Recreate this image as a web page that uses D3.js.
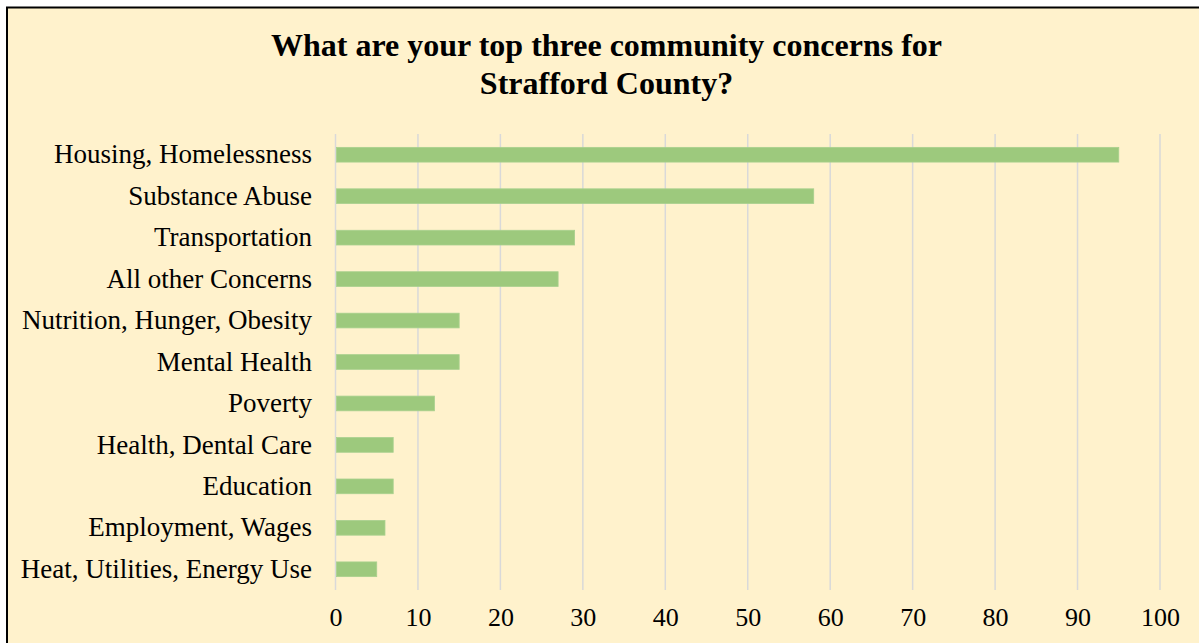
<!DOCTYPE html>
<html>
<head>
<meta charset="utf-8">
<script src="https://cdn.jsdelivr.net/npm/d3@7"></script>
<style>
  body { margin: 0; background: #fff; }
  text { font-family: "Times New Roman", "Liberation Serif", serif; }
</style>
</head>
<body>
<div id="chart"></div>
<script>
// chart data
let categories = [
  "Housing, Homelessness",
  "Substance Abuse",
  "Transportation",
  "All other Concerns",
  "Nutrition, Hunger, Obesity",
  "Mental Health",
  "Poverty",
  "Health, Dental Care",
  "Education",
  "Employment, Wages",
  "Heat, Utilities, Energy Use"
];
let counts = [95, 58, 29, 27, 15, 15, 12, 7, 7, 6, 5];
let xTicks = [0, 10, 20, 30, 40, 50, 60, 70, 80, 90, 100];
let titleLines = ["What are your top three community concerns for", "Strafford County?"];

let width = 1199, height = 643;

let xScale = d3.scaleLinear().domain([0, 100]).range([335.5, 1160]);
let yScale = d3.scaleBand().domain(categories).range([134, 590])
  .paddingInner(0.645).paddingOuter(0.3225);

let svg = d3.select("#chart").append("svg")
  .attr("width", width)
  .attr("height", height);

// chart area, runs off the right and bottom edge
svg.append("rect")
  .attr("x", 7).attr("y", 7.5)
  .attr("width", 1205).attr("height", 650)
  .attr("fill", "#fff2cc")
  .attr("stroke", "#000")
  .attr("stroke-width", 2);

// title
svg.append("g").selectAll("text")
  .data(titleLines)
  .enter().append("text")
  .attr("x", 606.5)
  .attr("y", (d, i) => 56 + i * 38)
  .attr("text-anchor", "middle")
  .attr("font-size", 32)
  .attr("font-weight", "bold")
  .attr("fill", "#000")
  .text(d => d);

// vertical gridlines
svg.append("g").selectAll("line")
  .data(xTicks)
  .enter().append("line")
  .attr("x1", d => xScale(d)).attr("x2", d => xScale(d))
  .attr("y1", 134).attr("y2", 590)
  .attr("stroke", "#d9d9d9")
  .attr("stroke-width", 1.5);

// bars
svg.append("g").selectAll("rect")
  .data(categories)
  .enter().append("rect")
  .attr("x", xScale(0) + 1)
  .attr("y", d => yScale(d))
  .attr("width", (d, i) => xScale(counts[i]) - xScale(0) - 1)
  .attr("height", yScale.bandwidth())
  .attr("fill", "#9dc97d")
  .attr("stroke", "#a9d08e")
  .attr("stroke-width", 0.8);

// x axis labels
let xAxis = svg.append("g")
  .attr("transform", "translate(0,590)")
  .call(d3.axisBottom(xScale).tickValues(xTicks).tickSize(0).tickPadding(17.2));
xAxis.select(".domain").remove();
xAxis.selectAll("text")
  .attr("font-size", 26)
  .attr("fill", "#000");

// category labels
let yAxis = svg.append("g")
  .attr("transform", "translate(335.5,0)")
  .call(d3.axisLeft(yScale).tickSize(0).tickPadding(23.5));
yAxis.select(".domain").remove();
yAxis.selectAll("text")
  .attr("font-size", 27)
  .attr("fill", "#000");
xAxis.attr("font-family", null);
yAxis.attr("font-family", null);
</script>
</body>
</html>
